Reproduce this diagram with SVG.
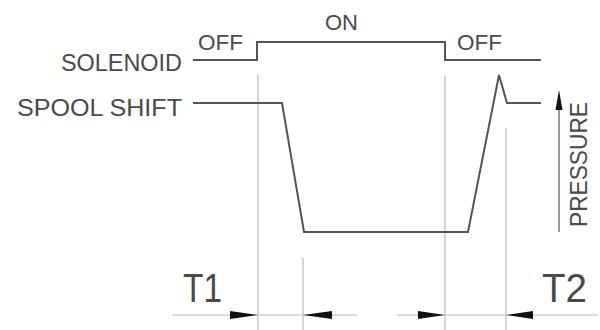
<svg xmlns="http://www.w3.org/2000/svg" width="600" height="330" viewBox="0 0 600 330">
  <style>
    .lbl { font-family: "Liberation Sans", Arial, sans-serif; fill: #4a4a4a; }
    .trace { fill: none; stroke: #555; stroke-width: 2; stroke-linejoin: miter; }
    .ext { fill: none; stroke: #c6c6c6; stroke-width: 1.5; }
    .dim { fill: none; stroke: #cfcfcf; stroke-width: 1.5; }
    .head { fill: #111; }
  </style>
  <rect width="600" height="330" fill="#fff"/>

  <!-- extension lines marking the switching instants -->
  <g id="extension-lines">
    <line class="ext" x1="258" y1="75" x2="258" y2="330"/>
    <line class="ext" x1="303" y1="258" x2="303" y2="330"/>
    <line class="ext" x1="445" y1="76" x2="445" y2="330"/>
    <line class="ext" x1="506" y1="128" x2="506" y2="330"/>
  </g>

  <!-- signal traces -->
  <g id="solenoid-trace">
    <polyline class="trace" points="193,60 257,60 257,42 445,42 445,60 541,60"/>
  </g>
  <g id="spool-trace">
    <polyline class="trace" points="193,103 282,103 304,232 468,232 499,75 507,103 541,103"/>
  </g>

  <!-- row labels -->
  <g id="solenoid-label">
    <text class="lbl" x="61" y="71" font-size="24" textLength="121" lengthAdjust="spacingAndGlyphs">SOLENOID</text>
  </g>
  <g id="spool-label">
    <text class="lbl" x="17" y="116" font-size="24" textLength="165" lengthAdjust="spacingAndGlyphs">SPOOL  SHIFT</text>
  </g>

  <!-- state labels -->
  <g id="state-labels">
    <text class="lbl" x="198" y="50" font-size="22" textLength="45" lengthAdjust="spacingAndGlyphs">OFF</text>
    <text class="lbl" x="325" y="30" font-size="22" textLength="33" lengthAdjust="spacingAndGlyphs">ON</text>
    <text class="lbl" x="457" y="50" font-size="22" textLength="45" lengthAdjust="spacingAndGlyphs">OFF</text>
  </g>

  <!-- pressure axis -->
  <g id="pressure-axis">
    <line x1="559" y1="232" x2="559" y2="105" stroke="#777" stroke-width="1.5"/>
    <polygon class="head" points="559,90 562.5,110 555.5,110"/>
    <text class="lbl" transform="translate(587,227) rotate(-90)" font-size="23" textLength="125" lengthAdjust="spacingAndGlyphs">PRESSURE</text>
  </g>

  <!-- time dimensions -->
  <g id="dimensions">
    <line class="dim" x1="172" y1="315" x2="357" y2="315"/>
    <line class="dim" x1="397" y1="315" x2="598" y2="315"/>
    <polygon class="head" points="258,315 230,311 230,319"/>
    <polygon class="head" points="303,315 332,311 332,319"/>
    <polygon class="head" points="445,315 418,311 418,319"/>
    <polygon class="head" points="506,315 533,311 533,319"/>
    <text class="lbl" x="183" y="302" font-size="41" textLength="39" lengthAdjust="spacingAndGlyphs">T1</text>
    <text class="lbl" x="542" y="302" font-size="41" textLength="45" lengthAdjust="spacingAndGlyphs">T2</text>
  </g>
</svg>
